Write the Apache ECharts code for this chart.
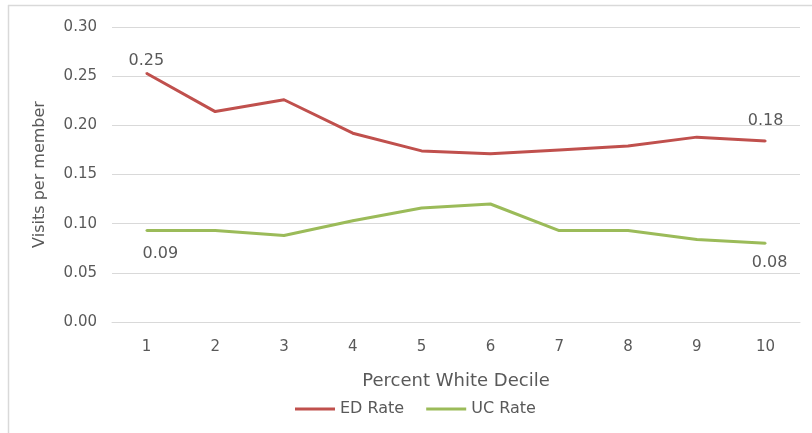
<!DOCTYPE html>
<html>
<head>
<meta charset="utf-8">
<script src="https://cdn.jsdelivr.net/npm/echarts@6/dist/echarts.min.js"></script>
<style>
  html, body { margin: 0; padding: 0; background: #ffffff; }
  #chart { width: 812px; height: 433px; }
</style>
</head>
<body>
<div id="chart"></div>
<script>
// Deciles of percent-white population
const deciles = ['1', '2', '3', '4', '5', '6', '7', '8', '9', '10'];
// Emergency department visits per member
const edRate = [0.253, 0.214, 0.226, 0.192, 0.174, 0.171, 0.175, 0.179, 0.188, 0.184];
// Urgent care visits per member
const ucRate = [0.093, 0.093, 0.088, 0.103, 0.116, 0.120, 0.093, 0.093, 0.084, 0.080];
// Y axis ticks
const yTicks = [0, 0.05, 0.10, 0.15, 0.20, 0.25, 0.30];

const textColor = '#595959';
const gridColor = '#d9d9d9';
const font = 'DejaVu Sans, Verdana, sans-serif';

// Only the first and last points carry a value label
function withEndLabels(values, position, firstLabel, lastLabel) {
  return values.map((v, i) => {
    const isFirst = i === 0;
    const isLast = i === values.length - 1;
    if (isFirst || isLast) {
      const cfg = isFirst ? firstLabel : lastLabel;
      return {
        value: v,
        label: {
          show: true,
          position: position,
          distance: cfg.distance,
          offset: cfg.offset,
          color: textColor,
          fontSize: 16,
          fontFamily: font,
          formatter: p => p.value.toFixed(2)
        }
      };
    }
    return v;
  });
}

const chart = echarts.init(document.getElementById('chart'));
chart.setOption({
  animation: false,
  backgroundColor: '#ffffff',
  textStyle: { fontFamily: font },
  graphic: [
    { type: 'line', shape: { x1: 8, y1: 5.5, x2: 812, y2: 5.5 }, style: { stroke: gridColor, lineWidth: 1.5 } },
    { type: 'line', shape: { x1: 8.5, y1: 5, x2: 8.5, y2: 433 }, style: { stroke: gridColor, lineWidth: 1.5 } }
  ],
  grid: { left: 112, right: 12, top: 27, bottom: 111, containLabel: false },
  legend: {
    left: 295,
    top: 401,
    padding: 0,
    icon: 'rect',
    itemWidth: 40,
    itemHeight: 3,
    itemGap: 22,
    textStyle: { color: textColor, fontSize: 16, fontFamily: font },
    data: ['ED Rate', 'UC Rate']
  },
  xAxis: {
    type: 'category',
    data: deciles,
    boundaryGap: true,
    name: 'Percent White Decile',
    nameLocation: 'middle',
    nameGap: 50,
    nameTextStyle: { color: textColor, fontSize: 18, fontFamily: font },
    axisLine: { show: true, lineStyle: { color: gridColor, width: 1 } },
    axisTick: { show: false },
    axisLabel: { color: textColor, fontSize: 15, margin: 18, fontFamily: font }
  },
  yAxis: {
    type: 'value',
    min: yTicks[0],
    max: yTicks[yTicks.length - 1],
    interval: 0.05,
    name: 'Visits per member',
    nameLocation: 'middle',
    nameGap: 64,
    nameTextStyle: { color: textColor, fontSize: 16, fontFamily: font },
    axisLine: { show: false },
    axisTick: { show: false },
    splitLine: { lineStyle: { color: gridColor, width: 1 } },
    axisLabel: {
      color: textColor,
      fontSize: 15,
      margin: 15,
      fontFamily: font,
      formatter: v => v.toFixed(2)
    }
  },
  series: [
    {
      name: 'ED Rate',
      type: 'line',
      data: withEndLabels(edRate, 'top',
        { distance: 3, offset: [0, 0] },
        { distance: 11, offset: [0, 0] }),
      symbol: 'circle',
      symbolSize: 2,
      showSymbol: true,
      lineStyle: { color: '#c0504d', width: 3 },
      itemStyle: { color: '#c0504d' }
    },
    {
      name: 'UC Rate',
      type: 'line',
      data: withEndLabels(ucRate, 'bottom',
        { distance: 14, offset: [14, 0] },
        { distance: 11, offset: [4, 0] }),
      symbol: 'circle',
      symbolSize: 2,
      showSymbol: true,
      lineStyle: { color: '#9bbb59', width: 3 },
      itemStyle: { color: '#9bbb59' }
    }
  ]
});
</script>
</body>
</html>
